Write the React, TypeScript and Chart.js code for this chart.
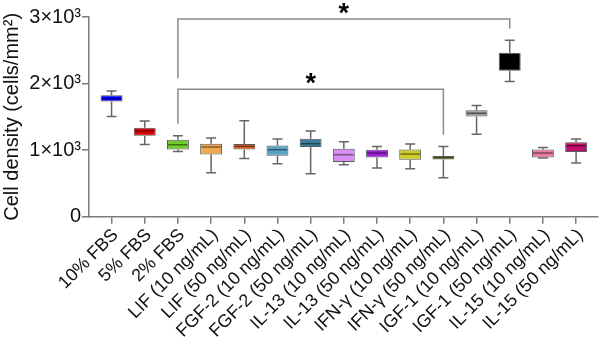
import React, { useEffect, useRef } from "react";
import { Chart, registerables } from "chart.js";

Chart.register(...registerables);

const categories = [
  "10% FBS",
  "5% FBS",
  "2% FBS",
  "LIF (10 ng/mL)",
  "LIF (50 ng/mL)",
  "FGF-2 (10 ng/mL)",
  "FGF-2 (50 ng/mL)",
  "IL-13 (10 ng/mL)",
  "IL-13 (50 ng/mL)",
  "IFN-γ (10 ng/mL)",
  "IFN-γ (50 ng/mL)",
  "IGF-1 (10 ng/mL)",
  "IGF-1 (50 ng/mL)",
  "IL-15 (10 ng/mL)",
  "IL-15 (50 ng/mL)",
];

const whiskerMin = [1504, 1086, 980, 659, 875, 795, 644, 780, 730, 719, 584, 1237, 2032, 880, 805];
const q1Values = [1730, 1217, 1011, 935, 1011, 916, 1047, 820, 890, 855, 860, 1504, 2193, 890, 971];
const medianValues = [1775, 1288, 1081, 1047, 1056, 1006, 1097, 931, 956, 941, 885, 1554, 2330, 956, 1066];
const q3Values = [1825, 1338, 1157, 1097, 1092, 1071, 1172, 1021, 1006, 1011, 911, 1599, 2464, 1011, 1117];
const whiskerMax = [1890, 1439, 1217, 1182, 1443, 1167, 1288, 1127, 1056, 1092, 1056, 1670, 2650, 1041, 1167];

const boxColors = [
  "#0000FF",
  "#DD0000",
  "#72CC30",
  "#F0A850",
  "#E06020",
  "#5BA3C4",
  "#3C7E9A",
  "#D890F5",
  "#A020E0",
  "#CCCC2A",
  "#7F7F10",
  "#9A9A9A",
  "#000000",
  "#EE78A8",
  "#C0106E",
];

const yTicks = [0, 1000, 2000, 3000];
const yTickLabels = ["0", "1×10³", "2×10³", "3×10³"];

// significance brackets
const bracketFrom = [2, 2];
const bracketTo = [12, 10];
const bracketBarY = [2971, 1915];
const bracketLeftEnd = [2081, 1398];
const bracketRightEnd = [2826, 1232];
const bracketStarY = [3163, 2107];
const bracketLabel = ["*", "*"];

const AXIS = "#7a7a7a";
const FONT = "'Liberation Sans', Arial, sans-serif";

const boxPlugin = {
  id: "boxExtras",
  beforeDatasetsDraw(chart: any) {
    const ctx = chart.ctx;
    const xs = chart.scales.x;
    const ys = chart.scales.y;
    ctx.save();
    ctx.strokeStyle = "#666666";
    ctx.lineWidth = 1.5;
    categories.forEach((_, i) => {
      const x = xs.getPixelForValue(i);
      const yMin = ys.getPixelForValue(whiskerMin[i]);
      const yMax = ys.getPixelForValue(whiskerMax[i]);
      const yQ1 = ys.getPixelForValue(q1Values[i]);
      const yQ3 = ys.getPixelForValue(q3Values[i]);
      ctx.beginPath();
      ctx.moveTo(x, yQ3);
      ctx.lineTo(x, yMax);
      ctx.moveTo(x - 5, yMax);
      ctx.lineTo(x + 5, yMax);
      ctx.moveTo(x, yQ1);
      ctx.lineTo(x, yMin);
      ctx.moveTo(x - 5, yMin);
      ctx.lineTo(x + 5, yMin);
      ctx.stroke();
    });
    ctx.restore();
  },
  afterDatasetsDraw(chart: any) {
    const ctx = chart.ctx;
    const xs = chart.scales.x;
    const ys = chart.scales.y;
    const meta = chart.getDatasetMeta(0);
    ctx.save();
    ctx.strokeStyle = "rgba(0,0,0,0.45)";
    ctx.lineWidth = 1.5;
    categories.forEach((_, i) => {
      const el = meta.data[i];
      const half = el.width / 2 - 1;
      const x = xs.getPixelForValue(i);
      const y = ys.getPixelForValue(medianValues[i]);
      ctx.beginPath();
      ctx.moveTo(x - half, y);
      ctx.lineTo(x + half, y);
      ctx.stroke();
    });
    ctx.strokeStyle = "#8a8a8a";
    ctx.lineWidth = 1.5;
    bracketFrom.forEach((from, k) => {
      const x1 = xs.getPixelForValue(from);
      const x2 = xs.getPixelForValue(bracketTo[k]);
      const yb = ys.getPixelForValue(bracketBarY[k]);
      const yl = ys.getPixelForValue(bracketLeftEnd[k]);
      const yr = ys.getPixelForValue(bracketRightEnd[k]);
      ctx.beginPath();
      ctx.moveTo(x1, yl);
      ctx.lineTo(x1, yb);
      ctx.lineTo(x2, yb);
      ctx.lineTo(x2, yr);
      ctx.stroke();
      const xm = xs.getPixelForValue((from + bracketTo[k]) / 2);
      const ym = ys.getPixelForValue(bracketStarY[k]);
      ctx.fillStyle = "#000";
      ctx.font = `bold 27px ${FONT}`;
      ctx.textAlign = "center";
      ctx.textBaseline = "alphabetic";
      ctx.fillText(bracketLabel[k], xm, ym + 16);
    });
    ctx.restore();
  },
};

export default function App() {
  const ref = useRef<HTMLCanvasElement | null>(null);
  useEffect(() => {
    if (!ref.current) return;
    const chart = new Chart(ref.current, {
      type: "bar",
      data: {
        datasets: [
          {
            data: categories.map((_, i) => ({ x: i, y: [q1Values[i], q3Values[i]] })) as any,
            backgroundColor: boxColors,
            borderColor: "#5a5a5a",
            borderWidth: 1,
            borderSkipped: false,
            categoryPercentage: 1,
            barPercentage: 0.66,
          },
        ],
      },
      options: {
        animation: false,
        responsive: false,
        events: [],
        layout: { padding: { top: 17, right: 2, left: 0, bottom: 0 } },
        plugins: { legend: { display: false }, tooltip: { enabled: false } },
        scales: {
          x: {
            type: "linear",
            offset: false,
            min: -0.68,
            max: 14.66,
            afterBuildTicks: (axis: any) => {
              axis.ticks = categories.map((_, i) => ({ value: i }));
            },
            afterFit: (scale: any) => {
              scale.height = 133.3;
              scale.paddingLeft = 0;
              scale.paddingRight = 0;
            },
            ticks: {
              autoSkip: false,
              minRotation: 45,
              maxRotation: 45,
              padding: 1,
              labelOffset: 4,
              color: "#111",
              font: { family: FONT, size: 18 },
              callback: (v: any) => categories[Math.round(Number(v))] ?? "",
            },
            grid: { offset: false, drawOnChartArea: false, drawTicks: true, tickLength: 7, color: AXIS, lineWidth: 1.5 },
            border: { color: AXIS, width: 1.5 },
          },
          y: {
            min: 0,
            max: 3000,
            afterBuildTicks: (axis: any) => {
              axis.ticks = yTicks.map((v) => ({ value: v }));
            },
            afterFit: (scale: any) => {
              scale.width = 89;
            },
            ticks: {
              padding: 1,
              color: "#111",
              font: { family: FONT, size: 20 },
              callback: (v: any) => yTickLabels[yTicks.indexOf(Number(v))] ?? "",
            },
            title: {
              display: true,
              text: "Cell density (cells/mm²)",
              color: "#111",
              font: { family: FONT, size: 20 },
              padding: 0,
            },
            grid: { drawOnChartArea: false, drawTicks: true, tickLength: 7, color: AXIS, lineWidth: 1.5 },
            border: { color: AXIS, width: 1.5 },
          },
        },
      },
      plugins: [boxPlugin],
    });
    return () => chart.destroy();
  }, []);
  return (
    <div style={{ position: "fixed", left: 0, top: 0, width: 600, height: 350, background: "#fff" }}>
      <canvas ref={ref} width={600} height={350} />
    </div>
  );
}
